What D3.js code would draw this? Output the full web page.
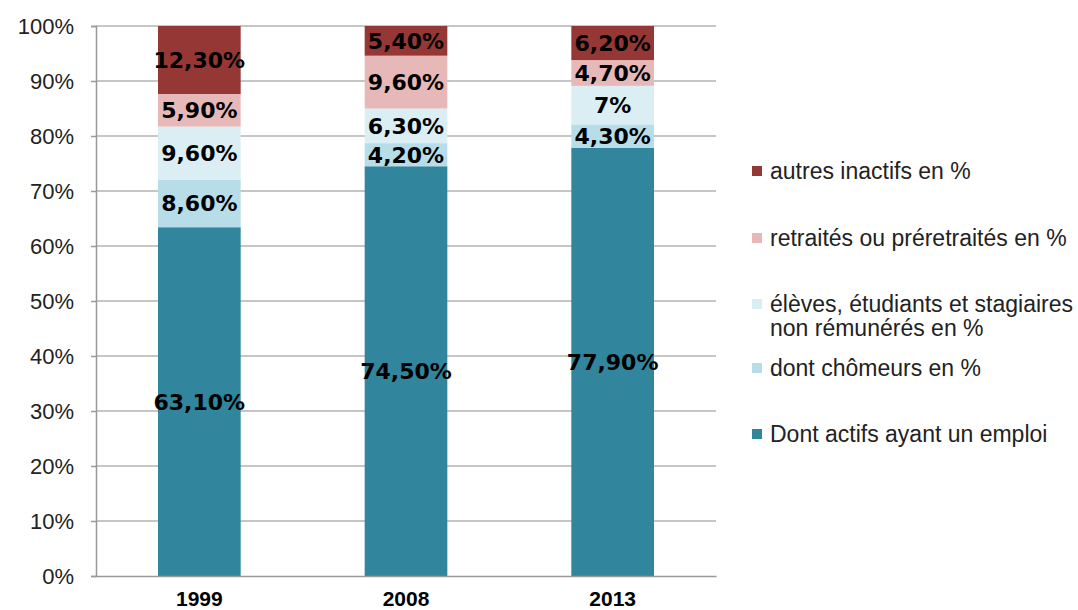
<!DOCTYPE html>
<html>
<head>
<meta charset="utf-8">
<script src="https://cdn.jsdelivr.net/npm/d3@7"></script>
<style>
  body { margin: 0; background: #fff; }
  svg { font-family: "Liberation Sans", Arial, sans-serif; }
</style>
</head>
<body>
<script>
// données
var annees = ["1999", "2008", "2013"];
var series = ["actifs", "chomeurs", "eleves", "retraites", "autres"];
var legendes = [
  ["Dont actifs ayant un emploi"],
  ["dont chômeurs en %"],
  ["élèves, étudiants et stagiaires", "non rémunérés en %"],
  ["retraités ou préretraités en %"],
  ["autres inactifs en %"]
];
var actifs    = [63.1, 74.5, 77.9];
var chomeurs  = [8.6, 4.2, 4.3];
var eleves    = [9.6, 6.3, 7];
var retraites = [5.9, 9.6, 4.7];
var autres    = [12.3, 5.4, 6.2];
var etiquettes = [
  ["63,10%", "74,50%", "77,90%"],
  ["8,60%", "4,20%", "4,30%"],
  ["9,60%", "6,30%", "7%"],
  ["5,90%", "9,60%", "4,70%"],
  ["12,30%", "5,40%", "6,20%"]
];
var couleurs = ["#31859c", "#b7dde8", "#dbeef4", "#e6b9b8", "#953735"];
var ticksY = [0, 0.1, 0.2, 0.3, 0.4, 0.5, 0.6, 0.7, 0.8, 0.9, 1];

var W = 1078, H = 610;
var margin = { left: 96, right: 362, top: 26, bottom: 34 };
var w = W - margin.left - margin.right;
var h = H - margin.top - margin.bottom;

var table = annees.map(function (a, i) {
  return { annee: a, actifs: actifs[i], chomeurs: chomeurs[i], eleves: eleves[i], retraites: retraites[i], autres: autres[i] };
});

var svg = d3.select("body").append("svg").attr("width", W).attr("height", H);
var g = svg.append("g").attr("transform", "translate(" + margin.left + "," + margin.top + ")");

var x = d3.scaleBand().domain(annees).range([0, w]).paddingInner(0.6).paddingOuter(0.3);
var y = d3.scaleLinear().domain([0, 1]).range([h, 0]);

// empilement 100 %
var stack = d3.stack().keys(series).offset(d3.stackOffsetExpand);
var couches = stack(table);

// grille
g.selectAll(".grid").data(ticksY.slice(1)).enter().append("line")
  .attr("x1", 0).attr("x2", w)
  .attr("y1", function (d) { return y(d); }).attr("y2", function (d) { return y(d); })
  .attr("stroke", "#b3b3b3").attr("stroke-width", 1.5);

// axe Y
var axeY = g.append("g").call(d3.axisLeft(y).tickValues(ticksY).tickSize(5).tickPadding(17)
  .tickFormat(function (d) { return Math.round(d * 100) + "%"; }));
axeY.select(".domain").attr("stroke", "#999").attr("stroke-width", 1.5);
axeY.selectAll(".tick line").attr("stroke", "#999").attr("stroke-width", 1.5);
axeY.selectAll("text").attr("font-size", 22).attr("fill", "#222").attr("font-family", "Liberation Sans, Arial, sans-serif");

// barres
var groupes = g.selectAll(".serie").data(couches).enter().append("g")
  .attr("fill", function (d, i) { return couleurs[i]; });
groupes.selectAll("rect").data(function (d) { return d; }).enter().append("rect")
  .attr("x", function (d) { return x(d.data.annee); })
  .attr("width", x.bandwidth())
  .attr("y", function (d) { return y(d[1]); })
  .attr("height", function (d) { return y(d[0]) - y(d[1]); });

// étiquettes
couches.forEach(function (c, i) {
  g.selectAll(".lab" + i).data(c).enter().append("text")
    .attr("x", function (d) { return x(d.data.annee) + x.bandwidth() / 2; })
    .attr("y", function (d) { return (y(d[0]) + y(d[1])) / 2; })
    .attr("dy", "0.36em")
    .attr("text-anchor", "middle")
    .attr("font-family", "DejaVu Sans, sans-serif")
    .attr("font-size", 22).attr("font-weight", "bold").attr("fill", "#000")
    .text(function (d, j) { return etiquettes[i][j]; });
});

// axe X
var axeX = g.append("g").attr("transform", "translate(0," + h + ")")
  .call(d3.axisBottom(x).tickSize(0).tickPadding(15));
axeX.select(".domain").attr("stroke", "#999").attr("stroke-width", 1.5);
axeX.selectAll("text").attr("font-size", 21).attr("font-weight", "bold").attr("fill", "#000")
  .attr("font-family", "Liberation Sans, Arial, sans-serif");

// légende
var legY = [434, 368, 304, 238, 171];
var leg = svg.append("g").attr("transform", "translate(752,0)");
legendes.forEach(function (l, i) {
  leg.append("rect").attr("x", 0).attr("y", legY[i] - 5).attr("width", 10).attr("height", 10)
    .attr("fill", couleurs[i]);
  l.forEach(function (t, k) {
    leg.append("text").attr("x", 18).attr("y", legY[i] + k * 24).attr("dy", "0.36em")
      .attr("font-size", 23).attr("fill", "#222").text(t);
  });
});
</script>
</body>
</html>
